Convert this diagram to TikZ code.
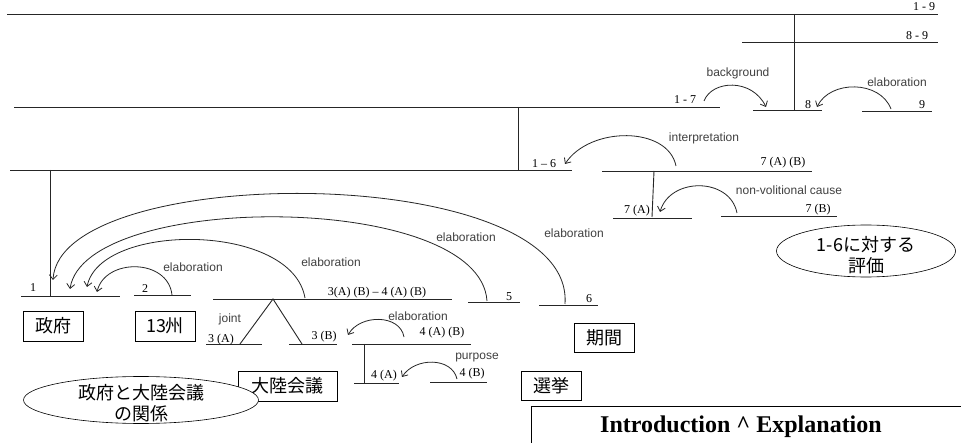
\documentclass[tikz,border=0pt]{standalone}
\usepackage{fontspec}
\setmainfont{Liberation Serif}
\setsansfont{Liberation Sans}
\newfontfamily\jfont{Noto Sans CJK JP}
\usetikzlibrary{arrows.meta}
\tikzset{
  seg/.style={line width=0.9pt,draw=black!85},
  rel/.style={line width=0.8pt,draw=black!85,-{Straight Barb[length=4.5pt,width=8pt]}},
  num/.style={font=\fontsize{12}{12}\selectfont,inner sep=0pt},
  rname/.style={font=\sffamily\fontsize{12}{12}\selectfont,text=black!75,inner sep=0pt},
  jbox/.style={draw,line width=0.6pt,font=\jfont\fontsize{18}{18}\selectfont,minimum height=30pt,inner sep=0pt},
  jtext/.style={font=\jfont\fontsize{18}{21}\selectfont,align=center,inner sep=0pt}
}
\begin{document}
\begin{tikzpicture}[x=1pt,y=-1pt]
 \clip (0,0) rectangle (961,443);
 \fill[white] (0,0) rectangle (961,443);
 \draw[seg] (7,14) -- (938,14);
 \draw[seg] (742,42) -- (938,42);
 \draw[seg] (14,107) -- (720,107);
 \draw[seg] (753,110) -- (822,110);
 \draw[seg] (862,111) -- (932,111);
 \draw[seg] (10,170) -- (572,170);
 \draw[seg] (602,171) -- (812,171);
 \draw[seg] (613,218) -- (692,218);
 \draw[seg] (721,216) -- (837,216);
 \draw[seg] (21,296) -- (120,296);
 \draw[seg] (134,295) -- (191,295);
 \draw[seg] (213,299) -- (452,299);
 \draw[seg] (468,302) -- (520,302);
 \draw[seg] (539,305) -- (598,305);
 \draw[seg] (206,344) -- (262,344);
 \draw[seg] (289,344) -- (337,344);
 \draw[seg] (352,344) -- (471,344);
 \draw[seg] (354,383) -- (399,383);
 \draw[seg] (430,382) -- (487,382);

 \node[num] (n19) at (924,7) {1 - 9};
 \node[num] (n89) at (917,36) {8 - 9};
 \node[num] (n17) at (685,100) {1 - 7};
 \node[num] (n8) at (808,105) {8};
 \node[num] (n9) at (922,105) {9};
 \node[num] (n16) at (544,164) {1 -- 6};
 \node[num] (n7ab) at (783,163) {7 (A) (B)};
 \node[num] (n7a) at (637,211) {7 (A)};
 \node[num] (n7b) at (818,210) {7 (B)};
 \node[num] (n1) at (33,288) {1};
 \node[num] (n2) at (145,289) {2};
 \node[num] (n34) at (377,293) {3(A) (B) -- 4 (A) (B)};
 \node[num] (n5) at (509,297) {5};
 \node[num] (n6) at (589,299) {6};
 \node[num] (n3a) at (221,340) {3 (A)};
 \node[num] (n3b) at (324,337) {3 (B)};
 \node[num] (n4ab) at (442,333) {4 (A) (B)};
 \node[num] (n4a) at (384,376) {4 (A)};
 \node[num] (n4b) at (472,374) {4 (B)};

 \coordinate (t19) at (794,14);
 \coordinate (b8) at (794,110);
 \coordinate (t17) at (518,107);
 \coordinate (b16) at (518,170);
 \coordinate (t7) at (654,171);
 \coordinate (b7a) at (652,217);
 \coordinate (t16) at (50,170);
 \coordinate (b1) at (50,296);
 \coordinate (t4) at (364,344);
 \coordinate (b4a) at (364,383);
 \coordinate (apex) at (273,299);
 \coordinate (j3a) at (240,344);
 \coordinate (j3b) at (302,344);
 \draw[seg] (t19) -- (b8);
 \draw[seg] (t17) -- (b16);
 \draw[seg] (t7) -- (b7a);
 \draw[seg] (t16) -- (b1);
 \draw[seg] (t4) -- (b4a);
 \draw[seg] (j3a) -- (apex) -- (j3b);

 \coordinate (bgs) at (704,101);
 \coordinate (bge) at (766,107);
 \coordinate (e9s) at (891,109);
 \coordinate (e9e) at (817,107);
 \coordinate (ins) at (676,166);
 \coordinate (ine) at (565,164);
 \coordinate (nvs) at (737,213);
 \coordinate (nve) at (660,212);
 \coordinate (e2s) at (172,295);
 \coordinate (e2e) at (97,292);
 \coordinate (e3s) at (305,298);
 \coordinate (e3e) at (87,287);
 \coordinate (e5s) at (487,301);
 \coordinate (e5e) at (70,289);
 \coordinate (e6s) at (565,304);
 \coordinate (e6e) at (53,280);
 \coordinate (e4s) at (404,337);
 \coordinate (e4e) at (348,335);
 \coordinate (pus) at (457,379);
 \coordinate (pue) at (402,377);
 \draw[rel] (bgs) .. controls (712,80) and (752,78) .. (bge);
 \draw[rel] (e9s) .. controls (880,80) and (830,80) .. (e9e);
 \draw[rel] (ins) .. controls (668,126) and (590,126) .. (ine);
 \draw[rel] (nvs) .. controls (730,177) and (670,177) .. (nve);
 \draw[rel] (e2s) .. controls (168,258) and (105,258) .. (e2e);
 \draw[rel] (e3s) .. controls (292,222) and (100,222) .. (e3e);
 \draw[rel] (e5s) .. controls (480,191) and (85,191) .. (e5e);
 \draw[rel] (e6s) .. controls (575,161) and (60,161) .. (e6e);
 \draw[rel] (e4s) .. controls (400,314) and (360,314) .. (e4e);
 \draw[rel] (pus) .. controls (452,357) and (415,357) .. (pue);

 \node[rname] (rbg) at (738,73) {background};
 \node[rname] (re9) at (897,82) {elaboration};
 \node[rname] (rin) at (704,138) {interpretation};
 \node[rname] (rnv) at (789,190) {non-volitional cause};
 \node[rname] (re2) at (193,267) {elaboration};
 \node[rname] (re3) at (331,262) {elaboration};
 \node[rname] (re5) at (466,237) {elaboration};
 \node[rname] (re6) at (574,233) {elaboration};
 \node[rname] (rjo) at (230,319) {joint};
 \node[rname] (re4) at (418,316) {elaboration};
 \node[rname] (rpu) at (477,358) {purpose};

 \node[jbox,minimum width=60pt] (seifu) at (53,326) {政府};
 \node[jbox,minimum width=60pt] (shu) at (165,326) {13州};
 \node[jbox,minimum width=99pt] (tairiku) at (287.5,386) {大陸会議};
 \node[jbox,minimum width=60pt,minimum height=29pt] (kikan) at (604,337.5) {期間};
 \node[jbox,minimum width=60pt,minimum height=29pt] (senkyo) at (551,385.5) {選挙};

 \draw[line width=0.6pt,fill=white] (141,400) ellipse [x radius=117.5pt, y radius=23.5pt];
 \node[jtext] (kankei) at (141,403) {政府と大陸会議\\の関係};
 \draw[line width=0.6pt] (866,251) ellipse [x radius=89.5pt, y radius=26pt];
 \node[jtext] (hyoka) at (866,255) {1-6に対する\\評価};

 \node[draw,line width=0.6pt,minimum width=440pt,minimum height=44pt,anchor=north west,inner sep=0pt] (intro) at (531,406) {};
 \node[font=\bfseries\fontsize{24}{24}\selectfont,inner sep=0pt] (introtext) at (741,427) {Introduction \^{} Explanation};
\end{tikzpicture}
\end{document}
